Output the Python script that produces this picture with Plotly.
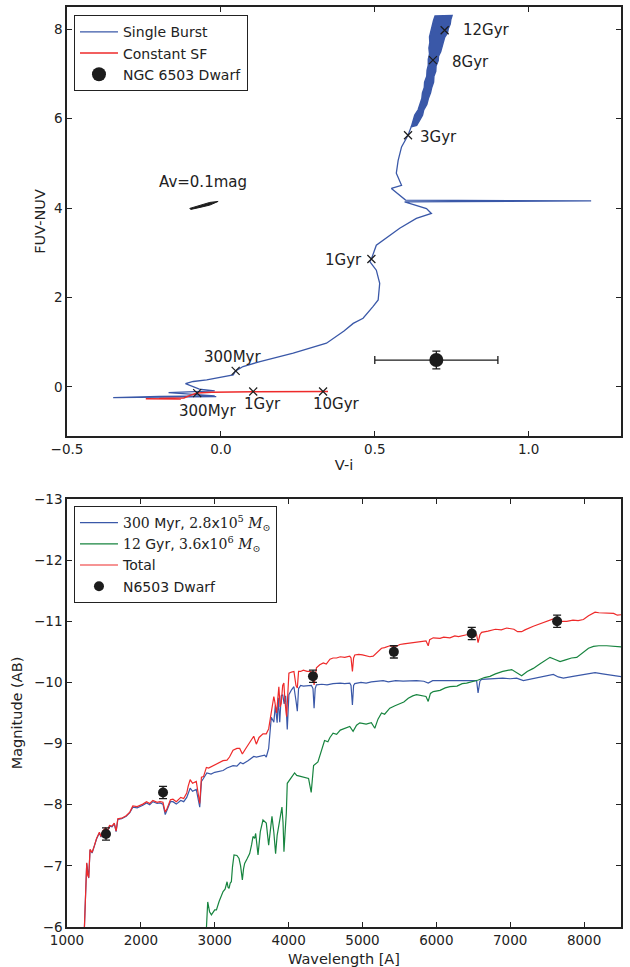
import plotly.graph_objects as go

# ---------------- Top panel data (V-i vs FUV-NUV) ----------------
sb_vi = [-0.015, -0.35, -0.20, -0.02, -0.17, -0.02, -0.07, -0.115, -0.09, -0.046, 0.018, 0.040,
         0.048, 0.072, 0.127, 0.235, 0.343, 0.40, 0.430, 0.462, 0.494, 0.511, 0.516, 0.505,
         0.484, 0.489, 0.505, 0.527, 0.581, 0.635, 0.684, 0.668, 0.597, 1.203, 0.600, 0.554,
         0.587, 0.570, 0.576, 0.587, 0.608, 0.620]
sb_fn = [-0.22, -0.24, -0.215, -0.20, -0.13, -0.09, -0.05, 0.07, 0.12, 0.156, 0.246, 0.268,
         0.358, 0.455, 0.566, 0.752, 0.976, 1.25, 1.42, 1.535, 1.795, 1.944, 2.317, 2.61,
         2.80, 2.86, 3.17, 3.285, 3.55, 3.77, 3.88, 3.99, 4.14, 4.16, 4.18, 4.44,
         4.51, 4.78, 5.07, 5.37, 5.63, 5.85]

# noisy old-age part of the single-burst track: outline (left edge up, right edge down)
band_vi = [0.619, 0.624, 0.630, 0.641, 0.646, 0.653, 0.655, 0.661, 0.662, 0.669, 0.670, 0.674,
           0.674, 0.678, 0.676, 0.679, 0.678, 0.682, 0.685, 0.691, 0.696,
           0.751, 0.747, 0.745, 0.739, 0.736, 0.727, 0.723, 0.716, 0.714, 0.707, 0.706, 0.699,
           0.698, 0.692, 0.691, 0.685, 0.681, 0.674, 0.669, 0.659, 0.655, 0.645, 0.636, 0.619]
band_fn = [5.82, 5.95, 6.08, 6.20, 6.33, 6.45, 6.58, 6.70, 6.82, 6.95, 7.08, 7.20,
           7.33, 7.45, 7.58, 7.70, 7.83, 7.95, 8.08, 8.20, 8.30,
           8.31, 8.22, 8.12, 8.02, 7.92, 7.82, 7.72, 7.60, 7.50, 7.40, 7.30, 7.18,
           7.06, 6.95, 6.82, 6.70, 6.58, 6.45, 6.32, 6.20, 6.08, 5.96, 5.85, 5.82]

csf_vi = [-0.244, -0.13, -0.20, -0.12, -0.10, -0.077, -0.03, 0.105, 0.332, 0.348]
csf_fn = [-0.265, -0.27, -0.26, -0.25, -0.19, -0.14, -0.12, -0.11, -0.105, -0.105]

sb_mark_vi = [0.048, 0.489, 0.608, 0.689, 0.727]
sb_mark_fn = [0.358, 2.86, 5.63, 7.31, 7.98]
csf_mark_vi = [-0.077, 0.105, 0.332]
csf_mark_fn = [-0.14, -0.105, -0.105]

av_vi = [-0.101, -0.068, -0.036, -0.009, -0.036, -0.068, -0.098, -0.101]
av_fn = [3.993, 4.067, 4.127, 4.149, 4.067, 4.015, 3.970, 3.993]

dwarf_vi = [0.70]
dwarf_fn = [0.60]
dwarf_vi_err = [0.20]
dwarf_fn_err = [0.20]

labels_top = ["12Gyr", "8Gyr", "3Gyr", "1Gyr", "300Myr", "300Myr", "1Gyr", "10Gyr", "Av=0.1mag"]
labels_x = [0.780, 0.744, 0.639, 0.466, 0.037, -0.045, 0.135, 0.377, -0.059]
labels_y = [7.98, 7.27, 5.60, 2.84, 0.66, -0.53, -0.38, -0.38, 4.59]
labels_anchor = ["left", "left", "left", "right", "center", "center", "center", "center", "center"]

# ---------------- Bottom panel data (spectra) ----------------
tot_wl = [1230, 1235, 1249, 1260, 1267, 1280, 1294, 1312, 1340, 1371, 1400, 1439, 1460, 1484,
          1520, 1550, 1575, 1610, 1640, 1665, 1688, 1740, 1801, 1850, 1891, 1950, 2027, 2077,
          2120, 2163, 2220, 2258, 2299, 2330, 2349, 2400, 2434, 2480, 2540, 2580, 2621, 2640,
          2667, 2700, 2750, 2797, 2820, 2848, 2887, 2916, 3000, 3113, 3166, 3200, 3248, 3300,
          3338, 3374, 3420, 3495, 3528, 3563, 3600, 3653, 3698, 3730, 3766, 3800, 3811, 3837,
          3868, 3885, 3900, 3920, 3936, 3950, 3973, 3990, 4004, 4040, 4072, 4100, 4118, 4135,
          4163, 4200, 4250, 4300, 4330, 4345, 4360, 4377, 4422, 4470, 4510, 4560, 4602, 4650,
          4700, 4760, 4828, 4845, 4864, 4880, 4896, 4950, 5000, 5060, 5100, 5145, 5200, 5258,
          5300, 5370, 5440, 5506, 5560, 5620, 5680, 5732, 5800, 5860, 5890, 5910, 5958, 6050,
          6100, 6184, 6250, 6300, 6410, 6500, 6545, 6565, 6590, 6613, 6700, 6800, 6880, 6952,
          7050, 7100, 7155, 7200, 7313, 7400, 7500, 7584, 7650, 7700, 7765, 7850, 7920, 7991,
          8060, 8149, 8200, 8250, 8307, 8400, 8450, 8488, 8520]
tot_mag = [-5.8, -6.0, -6.18, -6.9, -7.05, -6.85, -6.81, -7.27, -7.22, -7.33, -7.45, -7.55, -7.48, -7.57,
           -7.62, -7.58, -7.66, -7.65, -7.70, -7.57, -7.77, -7.78, -7.82, -7.88, -7.98, -7.97, -8.01, -8.05,
           -8.02, -8.07, -8.04, -8.05, -8.04, -7.88, -7.92, -8.08, -8.09, -8.05, -8.12, -8.10, -8.19, -8.30,
           -8.41, -8.35, -8.38, -8.02, -8.45, -8.46, -8.61, -8.60, -8.65, -8.72, -8.73, -8.78, -8.89, -8.92,
           -8.92, -8.83, -8.92, -9.05, -9.12, -8.99, -9.10, -9.16, -9.16, -9.24, -9.54, -9.77, -9.70, -9.50,
           -9.93, -9.60, -9.66, -9.95, -9.99, -9.70, -9.44, -9.95, -10.15, -10.17, -10.18, -9.95, -9.91, -10.18,
           -10.18, -10.20, -10.18, -10.18, -10.12, -9.96, -10.10, -10.24, -10.29, -10.32, -10.30, -10.38, -10.40, -10.40,
           -10.42, -10.41, -10.43, -10.40, -10.18, -10.40, -10.45, -10.46, -10.45, -10.43, -10.42, -10.43, -10.50, -10.56,
           -10.57, -10.60, -10.58, -10.62, -10.63, -10.64, -10.66, -10.67, -10.68, -10.68, -10.60, -10.70, -10.73, -10.72,
           -10.74, -10.73, -10.76, -10.75, -10.78, -10.79, -10.78, -10.65, -10.78, -10.82, -10.84, -10.87, -10.86, -10.89,
           -10.87, -10.83, -10.83, -10.86, -10.92, -10.96, -11.00, -11.04, -11.02, -11.00, -11.00, -11.02, -11.01, -11.03,
           -11.09, -11.15, -11.14, -11.14, -11.13, -11.13, -11.10, -11.11, -11.11]

young_wl = [1230, 1235, 1249, 1260, 1267, 1294, 1312, 1340, 1371, 1400, 1439, 1460, 1484, 1520,
            1550, 1575, 1610, 1640, 1665, 1688, 1740, 1801, 1850, 1891, 1950, 2027, 2077, 2120,
            2163, 2220, 2258, 2299, 2330, 2349, 2400, 2434, 2480, 2540, 2580, 2621, 2640, 2667,
            2700, 2750, 2797, 2820, 2842, 2893, 2950, 3000, 3113, 3166, 3248, 3300, 3347, 3383,
            3450, 3528, 3563, 3620, 3676, 3698, 3730, 3766, 3800, 3820, 3845, 3860, 3880, 3900,
            3920, 3940, 3960, 3982, 4004, 4040, 4072, 4100, 4118, 4135, 4163, 4200, 4250, 4309,
            4330, 4345, 4360, 4377, 4450, 4520, 4602, 4700, 4760, 4828, 4845, 4864, 4880, 4896,
            4980, 5050, 5120, 5200, 5280, 5350, 5450, 5550, 5650, 5732, 5830, 5890, 5950, 6050,
            6184, 6300, 6420, 6530, 6545, 6565, 6590, 6613, 6750, 6900, 7000, 7087, 7178, 7300,
            7450, 7584, 7650, 7720, 7850, 7950, 8050, 8149, 8250, 8350, 8488, 8520]
young_mag = [-5.8, -6.0, -6.17, -6.88, -7.04, -6.80, -7.26, -7.21, -7.32, -7.44, -7.54, -7.47, -7.56, -7.61,
             -7.57, -7.65, -7.64, -7.69, -7.56, -7.76, -7.77, -7.81, -7.87, -7.96, -7.95, -7.99, -8.03, -8.00,
             -8.05, -8.02, -8.03, -8.01, -7.84, -7.89, -8.05, -8.05, -8.01, -8.07, -8.05, -8.12, -8.20, -8.27,
             -8.22, -8.25, -7.96, -8.38, -8.42, -8.52, -8.50, -8.53, -8.56, -8.60, -8.64, -8.63, -8.69, -8.67,
             -8.72, -8.79, -8.78, -8.80, -8.81, -8.78, -8.92, -9.43, -9.35, -9.62, -9.34, -9.75, -9.35, -9.78,
             -9.80, -9.65, -9.78, -9.23, -9.80, -9.88, -9.93, -9.70, -9.53, -9.90, -9.95, -9.94, -9.95, -9.95,
             -9.90, -9.58, -9.90, -9.96, -9.97, -9.96, -9.98, -9.99, -9.98, -9.99, -9.95, -9.63, -9.95, -9.98,
             -10.00, -9.99, -10.01, -10.02, -10.03, -10.01, -10.03, -10.02, -10.03, -10.03, -10.02, -9.99, -10.03, -10.03,
             -10.04, -10.04, -10.04, -10.04, -10.03, -9.83, -10.02, -10.05, -10.06, -10.07, -10.06, -10.07, -10.03, -10.06,
             -10.10, -10.13, -10.09, -10.07, -10.10, -10.12, -10.14, -10.16, -10.14, -10.12, -10.09, -10.09]

old_wl = [2880, 2887, 2905, 2930, 2955, 3000, 3023, 3060, 3090, 3113, 3140, 3167, 3180, 3194,
          3210, 3225, 3240, 3261, 3300, 3329, 3350, 3374, 3390, 3405, 3440, 3473, 3500, 3518,
          3540, 3554, 3586, 3617, 3653, 3680, 3698, 3730, 3755, 3775, 3800, 3824, 3845, 3869,
          3910, 3925, 3937, 3955, 3969, 3982, 4014, 4050, 4081, 4110, 4149, 4200, 4239, 4270,
          4306, 4338, 4397, 4440, 4487, 4532, 4560, 4602, 4650, 4700, 4760, 4828, 4873, 4920,
          4964, 5050, 5120, 5167, 5210, 5258, 5300, 5370, 5440, 5506, 5560, 5620, 5680, 5732,
          5800, 5860, 5890, 5920, 5958, 6050, 6120, 6184, 6280, 6350, 6410, 6480, 6568, 6650,
          6726, 6800, 6900, 7020, 7080, 7155, 7230, 7313, 7400, 7480, 7539, 7600, 7675, 7750,
          7830, 7901, 7980, 8060, 8127, 8200, 8307, 8400, 8488, 8520]
old_mag = [-5.8, -6.0, -6.41, -6.25, -6.20, -6.28, -6.28, -6.42, -6.50, -6.58, -6.62, -6.74, -6.65, -6.63,
           -6.72, -6.74, -6.98, -7.18, -7.17, -7.12, -7.00, -6.77, -6.95, -7.04, -7.12, -7.20, -7.35, -7.48,
           -7.45, -7.53, -7.18, -7.56, -7.75, -7.72, -7.70, -7.34, -7.65, -7.81, -7.55, -7.20, -7.50, -7.67,
           -7.96, -7.70, -7.23, -7.60, -7.86, -8.35, -8.40, -8.46, -8.52, -8.48, -8.47, -8.46, -8.45, -8.43,
           -8.20, -8.64, -8.70, -8.85, -9.05, -9.03, -9.10, -9.17, -9.15, -9.22, -9.25, -9.28, -9.20, -9.30,
           -9.34, -9.32, -9.34, -9.25, -9.40, -9.50, -9.48, -9.58, -9.62, -9.66, -9.68, -9.74, -9.78, -9.80,
           -9.78, -9.77, -9.69, -9.82, -9.85, -9.87, -9.91, -9.93, -9.94, -9.98, -9.99, -10.01, -10.04, -10.08,
           -10.10, -10.14, -10.18, -10.21, -10.17, -10.11, -10.18, -10.23, -10.30, -10.37, -10.41, -10.38, -10.34, -10.37,
           -10.40, -10.41, -10.48, -10.56, -10.59, -10.60, -10.60, -10.59, -10.58, -10.58]

obs_wl = [1528, 2300, 4330, 5425, 6480, 7635]
obs_mag = [-7.52, -8.20, -10.10, -10.50, -10.80, -11.00]
obs_err = [0.10, 0.10, 0.10, 0.10, 0.10, 0.10]

BLUE = "#3a58a8"
RED = "#ee2a2a"
GREEN = "#17843f"
DARK = "#1c1c1c"
FONT = "DejaVu Sans"

fig = go.Figure()

# --- top panel traces ---
fig.add_trace(go.Scatter(x=sb_vi, y=sb_fn, mode="lines", name="Single Burst",
                         line=dict(color=BLUE, width=1.3), legend="legend"))
fig.add_trace(go.Scatter(x=band_vi, y=band_fn, mode="lines", showlegend=False, fill="toself",
                         fillcolor=BLUE, line=dict(color=BLUE, width=1.5)))
fig.add_trace(go.Scatter(x=csf_vi, y=csf_fn, mode="lines", name="Constant SF",
                         line=dict(color=RED, width=1.5), legend="legend"))
fig.add_trace(go.Scatter(x=sb_mark_vi + csf_mark_vi, y=sb_mark_fn + csf_mark_fn, mode="markers",
                         showlegend=False,
                         marker=dict(symbol="x-thin", size=8, line=dict(color=DARK, width=1.2))))
fig.add_trace(go.Scatter(x=av_vi, y=av_fn, mode="lines", fill="toself", fillcolor=DARK,
                         line=dict(color=DARK, width=1), showlegend=False))
fig.add_trace(go.Scatter(x=dwarf_vi, y=dwarf_fn, mode="markers", name="NGC 6503 Dwarf",
                         marker=dict(color=DARK, size=14),
                         error_x=dict(type="data", array=dwarf_vi_err, color=DARK, thickness=1.3, width=4),
                         error_y=dict(type="data", array=dwarf_fn_err, color=DARK, thickness=1.3, width=4),
                         legend="legend"))

# --- bottom panel traces ---
fig.add_trace(go.Scatter(x=young_wl, y=young_mag, mode="lines", xaxis="x2", yaxis="y2",
                         name='<span style="font-family:DejaVu Serif">300</span> Myr, '
                              '<span style="font-family:DejaVu Serif">2.8</span>x'
                              '<span style="font-family:DejaVu Serif">10<sup>5</sup> <i>M</i><sub>⊙</sub></span>',
                         line=dict(color=BLUE, width=1.2), legend="legend2"))
fig.add_trace(go.Scatter(x=old_wl, y=old_mag, mode="lines", xaxis="x2", yaxis="y2",
                         name='<span style="font-family:DejaVu Serif">12</span> Gyr, '
                              '<span style="font-family:DejaVu Serif">3.6</span>x'
                              '<span style="font-family:DejaVu Serif">10<sup>6</sup> <i>M</i><sub>⊙</sub></span>',
                         line=dict(color=GREEN, width=1.2), legend="legend2"))
fig.add_trace(go.Scatter(x=tot_wl, y=tot_mag, mode="lines", xaxis="x2", yaxis="y2", name="Total",
                         line=dict(color=RED, width=1.2), legend="legend2"))
fig.add_trace(go.Scatter(x=obs_wl, y=obs_mag, mode="markers", xaxis="x2", yaxis="y2", name="N6503 Dwarf",
                         marker=dict(color=DARK, size=10),
                         error_y=dict(type="data", array=obs_err, color=DARK, thickness=1.3, width=4),
                         legend="legend2"))

for txt, lx, ly, anc in zip(labels_top, labels_x, labels_y, labels_anchor):
    fig.add_annotation(x=lx, y=ly, xref="x", yref="y", text=txt, showarrow=False,
                       xanchor=anc, yanchor="middle", font=dict(family=FONT, size=15, color="#222"))

axis_common = dict(showline=True, linecolor="#222", linewidth=1.5, mirror="ticks",
                   ticks="inside", ticklen=5, tickwidth=1.2, tickcolor="#222",
                   showgrid=False, zeroline=False, automargin=False,
                   tickfont=dict(family=FONT, size=13.5, color="#222"))

fig.update_layout(
    width=630, height=967,
    margin=dict(l=67, r=9, t=7, b=40),
    paper_bgcolor="white", plot_bgcolor="white",
    font=dict(family=FONT, color="#222"),
    xaxis=dict(domain=[0, 1], range=[-0.5, 1.3], anchor="y", tickvals=[-0.5, 0.0, 0.5, 1.0],
               tickformat=".1f",
               title=dict(text="V-i", font=dict(family=FONT, size=14.5), standoff=4), **axis_common),
    yaxis=dict(domain=[0.5337, 1.0], range=[-1.1, 8.5], anchor="x", tickvals=[0, 2, 4, 6, 8],
               title=dict(text="FUV-NUV", font=dict(family=FONT, size=14.5), standoff=5), **axis_common),
    xaxis2=dict(domain=[0, 1], range=[1000, 8500], anchor="y2",
                tickvals=[1000, 2000, 3000, 4000, 5000, 6000, 7000, 8000], tickformat="d",
                title=dict(text="Wavelength [A]", font=dict(family=FONT, size=14.5), standoff=8), **axis_common),
    yaxis2=dict(domain=[0, 0.4652], range=[-6, -13], anchor="x2",
                tickvals=[-13, -12, -11, -10, -9, -8, -7, -6],
                title=dict(text="Magnitude (AB)", font=dict(family=FONT, size=14.5), standoff=8), **axis_common),
    legend=dict(x=0.0126, y=0.991, xanchor="left", yanchor="top", bgcolor="white",
                bordercolor="#222", borderwidth=1, font=dict(family=FONT, size=14, color="#222"),
                tracegroupgap=0, itemwidth=38),
    legend2=dict(x=0.0126, y=0.4576, xanchor="left", yanchor="top", bgcolor="white",
                 bordercolor="#222", borderwidth=1, font=dict(family=FONT, size=14, color="#222"),
                 tracegroupgap=0, itemwidth=38),
    showlegend=True,
)

fig.write_html("out.html", config={"displayModeBar": False},
               post_script="document.body.style.margin='0';document.body.style.overflow='hidden';")
